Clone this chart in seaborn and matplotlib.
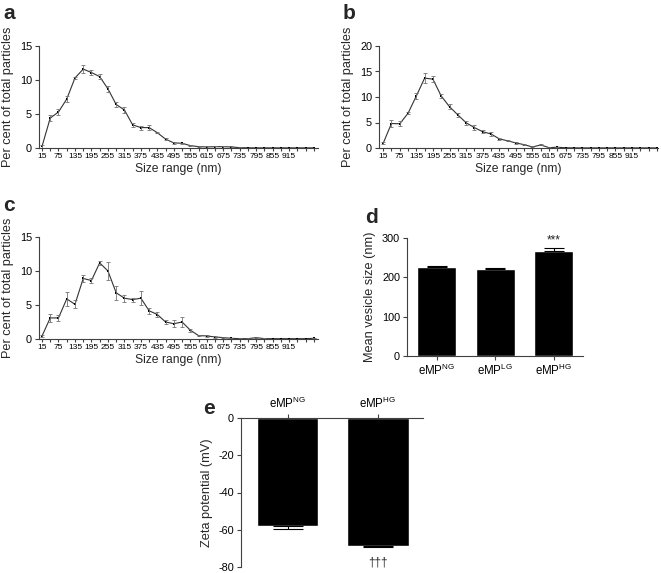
import matplotlib
matplotlib.use("Agg")
import matplotlib.pyplot as plt
import seaborn as sns

sns.set_style("ticks")
plt.rcParams["font.family"] = ["Liberation Sans", "DejaVu Sans"]
plt.rcParams["mathtext.fontset"] = "custom"
plt.rcParams["mathtext.rm"] = "Liberation Sans"
plt.rcParams["axes.unicode_minus"] = False

# size bins (nm)
sizes = [15, 45, 75, 105, 135, 165, 195, 225, 255, 285, 315, 345, 375, 405, 435,
         465, 495, 525, 555, 585, 615, 645, 675, 705, 735, 765, 795, 825, 855, 885,
         915, 945, 975, 1005]
size_labels = ["15", "", "75", "", "135", "", "195", "", "255", "", "315", "", "375", "",
               "435", "", "495", "", "555", "", "615", "", "675", "", "735", "", "795", "",
               "855", "", "915", "", "", ""]

a_vals = [0.25, 4.4, 5.3, 7.2, 10.3, 11.6, 11.1, 10.5, 8.7, 6.4, 5.6, 3.4, 3.0, 3.0,
          2.25, 1.3, 0.75, 0.7, 0.35, 0.2, 0.15, 0.2, 0.2, 0.15, 0.05, 0.03, 0.02, 0.02,
          0.02, 0.02, 0.02, 0.02, 0.02, 0.02]
a_err = [0.2, 0.5, 0.4, 0.4, 0.2, 0.6, 0.4, 0.4, 0.4, 0.4, 0.5, 0.3, 0.3, 0.4,
         0.1, 0.1, 0.2, 0.1, 0.1, 0.1, 0.1, 0.15, 0.15, 0.1, 0.05, 0.02, 0.02, 0.02,
         0.02, 0.02, 0.02, 0.02, 0.02, 0.02]

b_vals = [0.9, 4.8, 4.75, 6.8, 10.2, 13.7, 13.5, 10.2, 8.1, 6.5, 4.95, 4.0, 3.2, 2.75,
          1.8, 1.4, 1.0, 0.65, 0.2, 0.6, 0.07, 0.15, 0.05, 0.03, 0.02, 0.02, 0.02, 0.02,
          0.02, 0.02, 0.02, 0.02, 0.02, 0.02]
b_err = [0.2, 0.7, 0.5, 0.2, 0.6, 1.0, 0.6, 0.4, 0.5, 0.4, 0.4, 0.5, 0.3, 0.3,
         0.2, 0.1, 0.2, 0.1, 0.1, 0.1, 0.05, 0.05, 0.02, 0.02, 0.02, 0.02, 0.02, 0.02,
         0.02, 0.02, 0.02, 0.02, 0.02, 0.02]

c_vals = [0.45, 3.1, 3.1, 5.9, 5.1, 8.9, 8.6, 11.2, 10.0, 6.8, 6.0, 5.8, 6.0, 4.15,
          3.6, 2.5, 2.25, 2.5, 1.3, 0.5, 0.45, 0.3, 0.2, 0.1, 0.05, 0.05, 0.2, 0.05,
          0.05, 0.05, 0.05, 0.05, 0.05, 0.1]
c_err = [0.1, 0.6, 0.5, 1.0, 0.6, 0.5, 0.4, 0.3, 1.3, 1.0, 0.5, 0.3, 1.0, 0.4,
         0.3, 0.3, 0.5, 0.7, 0.2, 0.1, 0.1, 0.1, 0.05, 0.05, 0.05, 0.05, 0.05, 0.05,
         0.02, 0.02, 0.02, 0.02, 0.02, 0.02]

d_groups = ["eMP$^{\\mathrm{NG}}$", "eMP$^{\\mathrm{LG}}$", "eMP$^{\\mathrm{HG}}$"]
d_vals = [226, 221, 268]
d_err = [4, 2, 7]

e_groups = ["eMP$^{\\mathrm{NG}}$", "eMP$^{\\mathrm{HG}}$"]
e_vals = [-58, -68.5]
e_err = [1.5, 1.0]

W, H = 661, 573
fig = plt.figure(figsize=(W / 100, H / 100), dpi=100)


def box(left, top, right, bottom):
    return [left / W, 1 - bottom / H, (right - left) / W, (bottom - top) / H]


def style(ax):
    for s in ["left", "bottom", "top", "right"]:
        ax.spines[s].set_linewidth(0.8)
        ax.spines[s].set_color("0.25")
    ax.tick_params(colors="0.25", labelcolor="black", width=0.8)


def size_panel(pos, vals, err, ymax, yticks, xlim):
    ax = fig.add_axes(box(*pos))
    sns.lineplot(x=sizes, y=vals, ax=ax, color="0.2", linewidth=0.8,
                 marker="s", markersize=2.0, markeredgewidth=0, markerfacecolor="black")
    ax.errorbar(sizes, vals, yerr=err, fmt="none", ecolor="0.45",
                elinewidth=0.6, capsize=1.5, capthick=0.6)
    ax.set_xlim(*xlim)
    ax.set_ylim(0, ymax)
    ax.set_yticks(yticks)
    ax.set_xticks(sizes)
    ax.set_xticklabels(size_labels, fontsize=6)
    ax.tick_params(axis="x", length=2, pad=1.5)
    ax.tick_params(axis="y", length=3, labelsize=7.8, pad=2)
    ax.set_xlabel("Size range (nm)", fontsize=8.7, labelpad=2)
    ax.set_ylabel("Per cent of total particles", fontsize=9.2, labelpad=4)
    sns.despine(ax=ax)
    style(ax)
    return ax


size_panel((39, 46, 318, 148), a_vals, a_err, 15, [0, 5, 10, 15], (4, 1020))
size_panel((379, 46, 658, 148), b_vals, b_err, 20, [0, 5, 10, 15, 20], (0, 1009))
size_panel((39, 237, 318, 339), c_vals, c_err, 15, [0, 5, 10, 15], (4, 1020))

# panel d
axd = fig.add_axes(box(407, 238, 583, 356))
sns.barplot(x=d_groups, y=d_vals, ax=axd, color="black", width=0.67,
            errorbar=None, saturation=1)
axd.errorbar(range(len(d_vals)), d_vals, yerr=[[0] * 3, d_err], fmt="none",
             ecolor="black", elinewidth=0.8, capsize=7, capthick=0.8)
axd.set_xlim(-0.51, 2.5)
axd.set_ylim(0, 300)
axd.set_yticks([0, 100, 200, 300])
axd.text(2, 279, "***", ha="center", va="bottom", fontsize=8.5)
axd.tick_params(axis="x", length=3, labelsize=8.3, pad=2)
axd.tick_params(axis="y", length=3, labelsize=7.8, pad=2)
axd.set_ylabel("Mean vesicle size (nm)", fontsize=9.2, labelpad=4)
sns.despine(ax=axd)
style(axd)

# panel e
axe = fig.add_axes(box(241, 418, 423, 567))
sns.barplot(x=e_groups, y=e_vals, ax=axe, color="black", width=0.68,
            errorbar=None, saturation=1)
axe.errorbar(range(len(e_vals)), e_vals, yerr=[e_err, [0] * 2], fmt="none",
             ecolor="black", elinewidth=0.8, capsize=11, capthick=0.8)
axe.set_xlim(-0.52, 1.5)
axe.set_ylim(-80, 0)
axe.set_yticks([-80, -60, -40, -20, 0])
axe.text(1, -74.5, "\u2020\u2020\u2020", ha="center", va="top", fontsize=8.5)
axe.xaxis.tick_top()
axe.tick_params(axis="x", length=3, labelsize=8.3, pad=2)
axe.tick_params(axis="y", length=3, labelsize=7.8, pad=2)
axe.set_ylabel("Zeta potential (mV)", fontsize=9.2, labelpad=4)
axe.spines["bottom"].set_visible(False)
axe.spines["right"].set_visible(False)
style(axe)

# panel letters
for x, y, t in [(3, 4, "a"), (343, 4, "b"), (3, 196, "c"), (365, 208, "d"), (203, 399, "e")]:
    fig.text(x / W, 1 - y / H, t, fontsize=15, fontweight="bold", ha="left", va="top")

fig.savefig("out.png", dpi=100)
